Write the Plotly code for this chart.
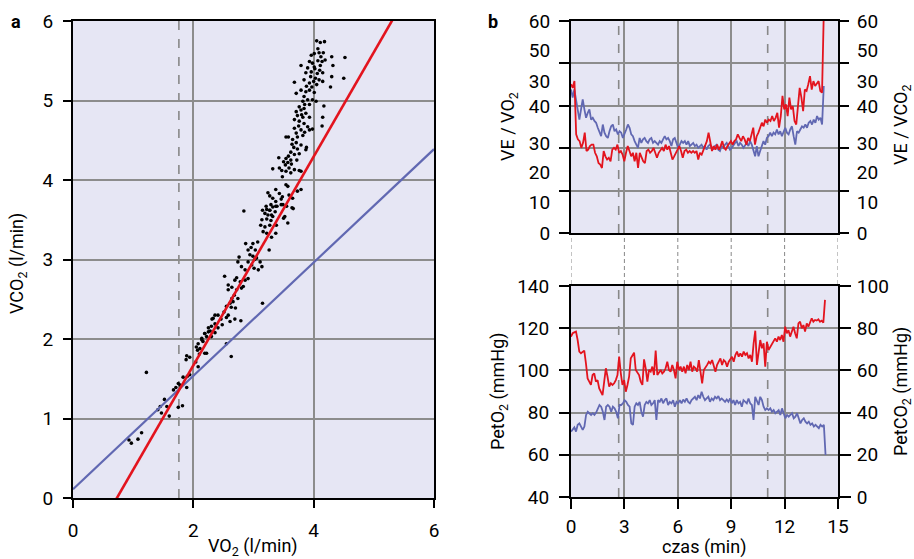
import plotly.graph_objects as go

# ---------------- DATA ----------------
# Panel a: VO2 vs VCO2 breath data (l/min) as (VO2, VCO2)
SCATTER_POINTS = [
    (4.05, 5.75), (4.11, 5.73), (4.18, 5.74), (3.96, 5.57), (4.01, 5.59), (4.09, 5.60), (4.16, 5.60),
    (4.30, 5.55), (4.52, 5.54), (3.93, 5.49), (3.98, 5.47), (4.07, 5.50), (4.14, 5.49), (4.19, 5.51),
    (3.79, 5.44), (3.90, 5.41), (4.01, 5.42), (4.11, 5.44), (4.32, 5.44), (3.87, 5.35), (3.96, 5.36),
    (4.06, 5.34), (4.15, 5.35), (4.30, 5.30), (4.50, 5.28), (3.68, 5.23), (3.84, 5.26), (3.93, 5.22),
    (4.00, 5.24), (4.09, 5.26), (4.15, 5.24), (4.28, 5.17), (3.71, 5.09), (3.79, 5.13), (3.87, 5.11),
    (3.93, 5.13), (4.01, 5.10), (3.84, 5.05), (3.90, 5.01), (3.82, 4.99), (3.98, 5.01), (4.04, 4.99),
    (4.17, 4.93), (3.76, 4.92), (3.84, 4.90), (3.79, 4.88), (3.71, 4.86), (3.87, 4.84), (3.73, 4.81),
    (3.82, 4.79), (3.93, 4.79), (4.15, 4.79), (3.68, 4.76), (3.76, 4.74), (3.84, 4.71), (3.90, 4.67),
    (4.14, 4.68), (3.68, 4.65), (3.79, 4.63), (3.93, 4.63), (3.98, 4.64), (3.71, 4.59), (3.82, 4.56),
    (3.73, 4.54), (3.54, 4.54), (3.58, 4.54), (3.65, 4.51), (3.71, 4.47), (3.79, 4.44), (3.67, 4.41),
    (3.73, 4.39), (3.88, 4.41), (3.87, 4.38), (3.62, 4.35), (3.68, 4.32), (3.76, 4.33), (3.42, 4.28),
    (3.54, 4.27), (3.58, 4.30), (3.62, 4.25), (3.50, 4.23), (3.57, 4.22), (3.53, 4.19), (3.32, 4.14),
    (3.43, 4.15), (3.59, 4.15), (3.68, 4.13), (3.54, 4.11), (3.76, 4.12), (3.62, 4.09), (3.79, 4.11),
    (3.48, 4.04), (3.54, 3.94), (3.57, 3.92), (3.24, 3.84), (3.27, 3.80), (3.37, 3.88), (3.43, 3.83),
    (3.48, 3.79), (3.59, 3.81), (3.73, 3.86), (3.79, 3.88), (3.32, 3.77), (3.37, 3.73), (3.46, 3.76),
    (3.65, 3.77), (3.21, 3.67), (3.27, 3.62), (3.29, 3.69), (3.37, 3.67), (3.46, 3.69), (3.64, 3.65),
    (3.15, 3.62), (3.24, 3.56), (3.32, 3.54), (3.50, 3.52), (3.95, 5.30), (4.03, 5.28), (3.88, 5.18),
    (3.97, 5.17), (4.05, 5.20), (3.85, 4.95), (3.93, 4.95), (3.80, 4.82), (3.75, 4.68), (3.85, 4.60),
    (3.64, 4.45), (3.72, 4.25), (3.63, 4.20), (3.47, 4.12), (4.07, 5.65), (4.12, 5.55), (4.02, 5.40),
    (4.10, 5.38),
    (2.84, 3.61), (3.22, 3.63), (3.27, 3.62), (3.32, 3.66), (3.39, 3.67), (3.49, 3.69), (3.55, 3.67),
    (3.66, 3.64), (3.19, 3.58), (3.30, 3.56), (3.36, 3.60), (3.52, 3.54), (3.57, 3.46), (3.14, 3.50),
    (3.22, 3.51), (3.29, 3.49), (3.12, 3.43), (3.19, 3.41), (3.27, 3.43), (3.38, 3.43), (3.16, 3.35),
    (3.22, 3.33), (3.37, 3.33), (3.30, 3.28), (2.87, 3.20), (2.99, 3.20), (3.07, 3.22), (2.96, 3.15),
    (3.03, 3.12), (2.91, 3.12), (3.26, 3.12), (2.76, 3.03), (2.74, 2.97), (2.94, 3.06), (2.99, 3.04),
    (3.05, 3.02), (3.11, 2.97), (2.91, 2.97), (2.97, 2.93), (3.01, 2.89), (3.08, 2.87), (3.14, 2.91),
    (3.02, 3.00), (2.80, 2.91), (2.86, 2.87), (2.52, 2.79), (2.72, 2.77), (2.69, 2.74), (2.78, 2.72),
    (2.86, 2.74), (2.91, 2.76), (2.83, 2.66), (2.80, 2.64), (2.58, 2.68), (2.64, 2.65), (2.58, 2.62),
    (2.72, 2.62), (2.68, 2.55), (2.64, 2.51), (2.74, 2.51), (2.61, 2.45), (2.66, 2.47), (3.15, 2.45),
    (2.55, 2.41), (2.63, 2.40), (2.70, 2.39), (2.51, 2.34), (2.58, 2.30), (2.41, 2.30), (2.36, 2.30),
    (2.33, 2.26), (2.46, 2.25), (2.55, 2.27), (2.69, 2.25), (2.79, 2.23), (2.61, 2.22), (2.48, 2.18),
    (2.36, 2.19), (2.30, 2.16), (2.25, 2.14), (2.41, 2.14), (2.28, 2.10), (2.36, 2.08), (2.19, 2.07),
    (2.22, 2.03), (2.30, 2.03), (2.14, 2.01), (2.16, 1.97), (2.08, 1.94), (2.05, 1.90), (2.11, 1.88),
    (2.22, 1.82), (2.55, 1.94), (2.63, 1.78),
    (2.31, 2.25), (2.19, 2.07), (2.25, 2.09), (2.14, 1.99), (2.07, 1.86), (2.10, 1.81), (2.19, 1.82),
    (1.89, 1.79), (1.94, 1.77), (1.88, 1.74), (2.08, 1.65), (2.04, 1.71), (1.22, 1.58), (1.83, 1.52),
    (1.90, 1.53), (1.94, 1.55), (1.75, 1.44), (1.78, 1.42), (1.89, 1.39), (1.67, 1.36), (1.71, 1.39),
    (1.52, 1.24), (1.56, 1.15), (1.45, 1.15), (1.41, 1.11), (1.47, 1.07), (1.60, 1.03), (1.75, 1.14),
    (1.82, 1.16), (0.93, 0.73), (0.97, 0.69), (1.08, 0.74), (1.14, 0.82),
]
VO2 = [p[0] for p in SCATTER_POINTS]
VCO2 = [p[1] for p in SCATTER_POINTS]

# Regression lines (slope, intercept) in panel a
FIT_RED = (1.313, -0.958)
FIT_BLUE = (0.713, 0.11)
VT_VO2 = 1.76  # threshold (dashed line) in panel a

# Panel b, top: ventilatory equivalents (plotted on 0-60 scale)
VE_VO2 = [
    42.1, 41.1, 43.0, 27.9, 26.5, 26.0, 24.1, 25.5, 28.4, 23.2, 23.6, 24.6, 25.0, 25.0, 22.7, 21.7,
    19.8, 19.4, 18.4, 23.2, 21.7, 20.8, 21.3, 20.3, 23.6, 24.1, 23.6, 25.0, 22.7, 23.2, 22.2, 20.3,
    22.7, 24.6, 23.2, 21.7, 22.7, 20.3, 22.7, 18.4, 22.7, 21.7, 20.3, 19.8, 23.2, 23.6, 22.7, 23.2,
    24.1, 22.7, 21.3, 22.7, 23.6, 24.1, 23.2, 25.0, 23.6, 24.6, 22.7, 20.8, 21.7, 22.7, 23.6, 24.6,
    23.2, 21.3, 23.2, 23.6, 22.7, 23.2, 22.7, 23.2, 22.7, 23.2, 20.8, 22.7, 22.2, 23.6, 24.6, 26.0,
    28.4, 25.5, 23.2, 24.6, 23.6, 25.0, 23.6, 24.6, 26.0, 24.1, 23.6, 24.6, 25.5, 26.0, 25.0, 26.0,
    26.5, 27.9, 26.9, 26.0, 27.4, 26.5, 25.0, 26.9, 26.0, 28.4, 29.8, 25.0, 27.4, 28.4, 29.8, 31.2,
    30.2, 32.1, 31.2, 32.1, 31.7, 33.1, 31.7, 32.6, 34.0, 29.8, 33.1, 38.8, 35.0, 36.4, 33.1, 38.3,
    35.0, 35.9, 31.7, 30.7, 35.9, 41.1, 38.3, 34.5, 40.6, 40.2, 42.1, 44.4, 40.6, 43.0, 41.6, 42.5,
    43.0, 40.2, 39.7, 62.0,
]
VE_VCO2 = [
    40.6, 38.3, 40.6, 37.8, 35.0, 32.1, 35.0, 37.8, 35.0, 32.6, 34.0, 35.0, 32.1, 32.6, 31.7, 31.2,
    29.8, 28.8, 27.4, 30.7, 28.4, 27.4, 26.9, 28.8, 30.2, 30.7, 28.8, 29.3, 27.9, 28.8, 28.4, 26.9,
    27.9, 29.3, 30.7, 29.8, 27.9, 27.4, 26.0, 25.0, 24.1, 26.9, 25.5, 26.5, 26.9, 26.0, 25.5, 26.5,
    26.9, 25.5, 26.0, 25.5, 25.0, 26.0, 25.5, 26.5, 27.4, 26.5, 26.9, 26.0, 24.6, 26.5, 26.9, 25.5,
    24.1, 25.0, 26.0, 25.5, 26.0, 25.0, 26.0, 24.6, 25.0, 25.5, 24.6, 25.0, 24.1, 24.6, 25.0, 24.1,
    24.6, 23.6, 24.6, 25.0, 24.1, 23.6, 24.6, 25.0, 23.6, 23.2, 24.6, 24.1, 25.0, 25.5, 24.6, 23.6,
    24.1, 25.0, 25.5, 26.0, 24.6, 25.5, 25.0, 24.1, 25.0, 25.5, 24.6, 26.0, 25.0, 23.6, 21.7, 24.6,
    21.7, 23.2, 25.0, 26.0, 25.0, 26.9, 27.4, 28.4, 27.4, 28.4, 27.9, 29.3, 27.9, 28.8, 27.4, 28.8,
    29.8, 28.4, 27.9, 29.3, 30.2, 27.4, 25.0, 28.8, 28.4, 29.3, 30.2, 29.8, 30.7, 29.8, 31.2, 31.7,
    30.7, 32.1, 31.2, 33.1, 32.1, 32.6, 30.7, 41.6,
]
VE_END_MIN = 14.2

# Panel b, bottom: end-tidal pressures (mmHg)
PETO2 = [
    116.0, 117.6, 118.0, 118.4, 114.4, 108.9, 108.1, 108.9, 109.4, 103.3, 96.2, 94.7, 93.1, 97.8, 98.6,
    94.7, 95.4, 91.5, 89.9, 88.3, 94.7, 101.0, 97.0, 92.3, 93.9, 93.1, 93.9, 95.4, 97.8, 106.5, 98.6,
    93.1, 95.4, 89.9, 93.1, 97.0, 105.7, 107.3, 108.4, 100.2, 98.6, 97.8, 94.7, 93.1, 105.2, 101.0,
    94.7, 100.2, 99.4, 101.8, 97.8, 109.4, 97.8, 99.4, 100.2, 98.6, 99.4, 101.0, 104.1, 100.2, 99.4,
    102.6, 100.2, 96.2, 104.1, 100.2, 101.8, 99.4, 101.8, 98.6, 102.6, 100.2, 104.1, 99.4, 101.8,
    101.0, 99.4, 104.9, 98.6, 93.9, 100.2, 101.8, 102.6, 104.1, 103.3, 104.9, 101.8, 99.4, 102.6,
    104.1, 105.7, 102.6, 104.9, 104.1, 101.8, 104.1, 105.7, 106.5, 104.1, 107.3, 108.9, 106.5, 108.1,
    106.5, 108.9, 107.3, 108.1, 105.7, 107.3, 104.1, 112.8, 118.8, 102.6, 109.7, 114.4, 110.5, 112.8,
    101.8, 113.6, 109.7, 111.2, 112.8, 113.6, 115.2, 113.6, 116.0, 114.4, 116.8, 113.6, 120.7, 117.6,
    119.1, 116.0, 118.4, 120.7, 117.6, 115.2, 122.3, 123.1, 119.9, 121.5, 118.4, 122.3, 120.7, 123.1,
    124.7, 123.1, 123.9, 123.6, 124.2, 123.1, 123.6, 122.6, 133.4,
]
PETO2_END_MIN = 14.27
PETCO2 = [
    31.0, 31.8, 33.0, 31.0, 34.2, 34.9, 33.4, 31.8, 33.4, 38.9, 40.4, 39.7, 38.9, 39.7, 38.9, 40.0,
    42.0, 43.6, 42.8, 40.4, 36.5, 42.8, 43.6, 42.8, 40.4, 42.8, 42.0, 40.4, 37.3, 43.6, 43.6, 44.4,
    45.9, 45.1, 43.6, 42.8, 34.9, 34.2, 42.8, 44.4, 43.6, 45.1, 40.4, 38.1, 43.6, 45.1, 44.4, 45.9,
    43.6, 44.4, 45.9, 36.5, 45.9, 45.1, 46.7, 44.4, 45.9, 46.7, 43.6, 45.1, 44.4, 45.9, 42.8, 45.1,
    44.4, 45.9, 44.4, 46.2, 45.1, 46.7, 45.1, 44.4, 45.9, 46.7, 47.5, 45.9, 48.3, 46.7, 49.9, 47.5,
    45.9, 46.7, 47.5, 45.1, 46.7, 45.9, 47.5, 46.7, 47.8, 45.9, 46.7, 45.9, 45.1, 46.2, 45.1, 46.7,
    44.4, 45.9, 43.6, 45.9, 44.4, 45.1, 42.8, 45.9, 45.1, 44.4, 46.7, 44.4, 43.6, 36.5, 47.5, 45.1,
    43.6, 47.5, 45.9, 42.8, 41.2, 42.0, 41.2, 42.0, 40.4, 41.2, 39.7, 40.4, 41.2, 38.9, 42.0, 39.7,
    37.3, 38.9, 38.1, 38.9, 39.7, 37.3, 38.1, 39.7, 37.3, 34.9, 36.5, 37.3, 35.7, 34.9, 35.7, 34.2,
    34.9, 33.4, 34.2, 33.4, 32.6, 34.2, 33.4, 34.2, 19.9,
]
PETCO2_END_MIN = 14.3

THRESHOLDS_MIN = [2.68, 11.05]  # dashed vertical lines in panel b
TIME_TICKS = [0, 3, 6, 9, 12, 15]
VE_TICKS = [0, 12, 24, 36, 48, 60]
VE_LABEL_POS = [0, 8.8, 17.1, 25.4, 35.8, 42.8, 51.8, 60]
VE_LABEL_TEXT = ["0", "10", "20", "30", "40", "30", "50", "60"]


def sample_times(n, end):
    return [end * i / (n - 1) for i in range(n)]


# ---------------- STYLE ----------------
W, H = 914, 559
RED = "#e3141e"
BLUE = "#6168b2"
BG = "#e6e6f4"
GRID = "#8c8c8c"
DASH = "#888888"
FONT = "Roboto"
TICKFONT = dict(family=FONT, size=19, color="black")
TITLEFONT = dict(family=FONT, size=18, color="black")


def px(x):
    return x / W


def py(y):
    return 1 - y / H


fig = go.Figure()

# ----- panel a -----
fig.add_trace(go.Scatter(x=VO2, y=VCO2, mode="markers", xaxis="x", yaxis="y",
                         marker=dict(color="black", size=3.6), hoverinfo="skip"))
X_A = [0, 6]
for (slope, icpt), col, w in [(FIT_BLUE, BLUE, 2.2), (FIT_RED, RED, 2.6)]:
    fig.add_trace(go.Scatter(x=X_A, y=[slope * x + icpt for x in X_A], mode="lines",
                             xaxis="x", yaxis="y", line=dict(color=col, width=w), hoverinfo="skip"))

# ----- panel b top -----
fig.add_trace(go.Scatter(x=sample_times(len(VE_VCO2), VE_END_MIN), y=VE_VCO2, mode="lines",
                         xaxis="x2", yaxis="y2", line=dict(color=BLUE, width=1.8)))
fig.add_trace(go.Scatter(x=sample_times(len(VE_VO2), VE_END_MIN), y=VE_VO2, mode="lines",
                         xaxis="x2", yaxis="y2", line=dict(color=RED, width=1.8)))
for ya in ["y3", "y4", "y5"]:
    fig.add_trace(go.Scatter(x=[None], y=[None], xaxis="x2", yaxis=ya, mode="lines",
                             hoverinfo="skip"))

# ----- panel b bottom -----
fig.add_trace(go.Scatter(x=sample_times(len(PETCO2), PETCO2_END_MIN), y=PETCO2, mode="lines",
                         xaxis="x3", yaxis="y7", line=dict(color=BLUE, width=1.8)))
fig.add_trace(go.Scatter(x=sample_times(len(PETO2), PETO2_END_MIN), y=PETO2, mode="lines",
                         xaxis="x3", yaxis="y6", line=dict(color=RED, width=1.8)))

common = dict(showline=True, linecolor="black", linewidth=2, zeroline=False, automargin=False,
              tickfont=TICKFONT, tickcolor="black", tickwidth=2, gridcolor=GRID, gridwidth=1.5)

fig.update_layout(
    width=W, height=H, autosize=False, margin=dict(l=0, r=0, t=0, b=0, pad=0),
    paper_bgcolor="white", plot_bgcolor=BG, showlegend=False,
    xaxis=dict(domain=[px(73), px(434)], range=[0, 6], tickvals=[0, 2, 4, 6], ticks="outside",
               ticklen=8, mirror=True, showgrid=True, anchor="y", ticklabelstandoff=6, **common),
    yaxis=dict(domain=[py(498), py(21)], range=[0, 6], dtick=1, ticks="outside", ticklen=8,
               mirror=True, showgrid=True, anchor="x", ticklabelstandoff=6, **common),
    xaxis2=dict(domain=[px(571), px(838)], range=[0, 15], tickvals=TIME_TICKS, ticks="",
                showticklabels=False, mirror=True, showgrid=True, anchor="y2", **common),
    yaxis2=dict(domain=[py(233), py(21)], range=[0, 60], tickvals=VE_TICKS, ticks="outside",
                ticklen=10, showticklabels=False, mirror=True, showgrid=True, anchor="x2", **common),
    yaxis3=dict(overlaying="y2", side="right", anchor="x2", range=[0, 60], tickvals=VE_TICKS,
                ticks="outside", ticklen=10, showticklabels=False, showgrid=False,
                **{**common, "showline": False}),
    yaxis4=dict(overlaying="y2", side="left", anchor="x2", range=[0, 60], tickvals=VE_LABEL_POS,
                ticktext=VE_LABEL_TEXT, ticks="outside", ticklen=10, showgrid=False,
                ticklabelstandoff=6, **{**common, "showline": False, "tickcolor": "rgba(0,0,0,0)"}),
    yaxis5=dict(overlaying="y2", side="right", anchor="x2", range=[0, 60], tickvals=VE_LABEL_POS,
                ticktext=VE_LABEL_TEXT, ticks="outside", ticklen=12, showgrid=False,
                ticklabelstandoff=2, **{**common, "showline": False, "tickcolor": "rgba(0,0,0,0)"}),
    xaxis3=dict(domain=[px(571), px(838)], range=[0, 15], tickvals=TIME_TICKS, ticks="outside",
                ticklen=10, mirror=True, showgrid=True, anchor="y6", ticklabelstandoff=1, **common),
    yaxis6=dict(domain=[py(497), py(286)], range=[40, 140], dtick=20, ticks="outside", ticklen=10,
                mirror=True, showgrid=True, anchor="x3", ticklabelstandoff=6, **common),
    yaxis7=dict(overlaying="y6", side="right", anchor="x3", range=[0, 100], dtick=20,
                ticks="outside", ticklen=12, showgrid=False, ticklabelstandoff=2,
                **{**common, "showline": False}),
)

shapes = []
dash_line = dict(color=DASH, width=1.6, dash="dash")
shapes.append(dict(type="line", xref="x", yref="y", x0=VT_VO2, x1=VT_VO2, y0=0, y1=6,
                   line=dash_line, layer="below"))
for t in THRESHOLDS_MIN:
    shapes.append(dict(type="line", xref="x2", yref="y2", x0=t, x1=t, y0=0, y1=60,
                       line=dash_line, layer="below"))
    shapes.append(dict(type="line", xref="x3", yref="y6", x0=t, x1=t, y0=40, y1=140,
                       line=dash_line, layer="below"))
for t in TIME_TICKS:
    shapes.append(dict(type="line", xref="x2", yref="paper", x0=t, x1=t, y0=py(284), y1=py(236),
                       line=dict(color=DASH, width=1, dash="4px,3px")))
fig.update_layout(shapes=shapes)

ann = []


def add_text(text, x, y, angle=0, font=TITLEFONT):
    ann.append(dict(text=text, x=px(x), y=py(y), xref="paper", yref="paper", showarrow=False,
                    textangle=angle, font=font, xanchor="center", yanchor="middle"))


add_text("<b>a</b>", 16, 21, font=dict(family=FONT, size=18, color="black"))
add_text("<b>b</b>", 493, 21, font=dict(family=FONT, size=18, color="black"))
add_text("VCO<sub>2</sub> (l/min)", 18, 264, angle=-90)
add_text("VO<sub>2</sub> (l/min)", 253, 547)
add_text("VE / VO<sub>2</sub>", 509, 127, angle=-90)
add_text("VE / VCO<sub>2</sub>", 902, 125, angle=-90)
add_text("PetO<sub>2</sub> (mmHg)", 499, 391, angle=-90)
add_text("PetCO<sub>2</sub> (mmHg)", 902, 392, angle=-90)
add_text("czas (min)", 704, 547)
fig.update_layout(annotations=ann)

fig.write_html(
    "out.html",
    config={"responsive": False, "displayModeBar": False},
    default_width=f"{W}px",
    default_height=f"{H}px",
    post_script="document.body.style.margin='0';document.body.style.overflow='hidden';",
)
